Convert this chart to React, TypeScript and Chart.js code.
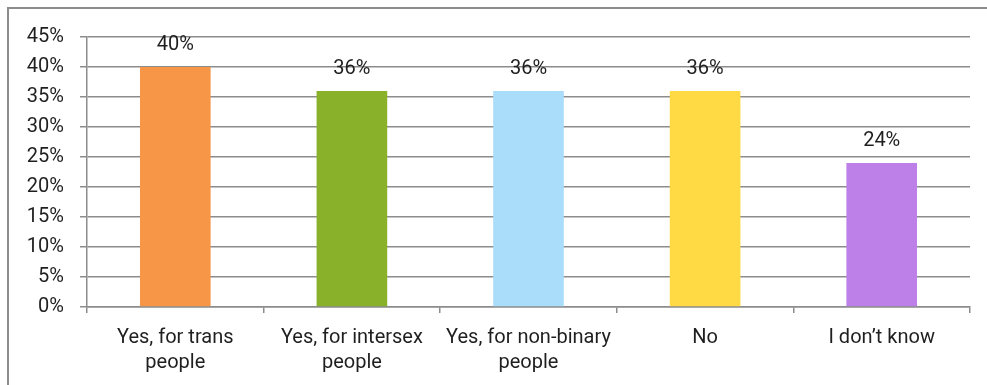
import React, { useEffect, useRef } from "react";
import { Chart, registerables } from "chart.js";

Chart.register(...registerables);

const categories: string[][] = [
  ["Yes, for trans", "people"],
  ["Yes, for intersex", "people"],
  ["Yes, for non-binary", "people"],
  ["No"],
  ["I don\u2019t know"],
];
const values: number[] = [40, 36, 36, 36, 24];
const barColors: string[] = ["#F79646", "#8AB12A", "#AADDFA", "#FFDA45", "#BD80E8"];
const yTicks = { min: 0, max: 45, step: 5 };

const FONT = "Roboto, 'DejaVu Sans', sans-serif";
const TEXT = "#1f1f1f";
const GRID = "#8c8c8c";
const FS = 20;

const labelPlugin = {
  id: "barLabels",
  afterDatasetsDraw(chart: any) {
    const ctx = chart.ctx;
    const meta = chart.getDatasetMeta(0);
    ctx.save();
    ctx.font = `${FS}px ${FONT}`;
    ctx.fillStyle = TEXT;
    ctx.textAlign = "center";
    ctx.textBaseline = "middle";
    meta.data.forEach((el: any, i: number) => {
      ctx.fillText(values[i] + "%", el.x, el.y - 22);
    });
    ctx.restore();
  },
};

export default function App() {
  const ref = useRef<HTMLCanvasElement>(null);
  useEffect(() => {
    if (!ref.current) return;
    const chart = new Chart(ref.current, {
      type: "bar",
      data: {
        labels: categories,
        datasets: [
          {
            data: values,
            backgroundColor: barColors,
            barPercentage: 0.4,
            categoryPercentage: 1,
          },
        ],
      },
      options: {
        animation: false,
        responsive: false,
        maintainAspectRatio: false,
        layout: { padding: { left: 0, right: 17, top: 37, bottom: 0 } },
        plugins: { legend: { display: false }, tooltip: { enabled: false } },
        scales: {
          x: {
            offset: true,
            grid: {
              offset: true,
              drawOnChartArea: false,
              drawTicks: true,
              tickLength: 6,
              color: GRID,
              lineWidth: 1.5,
            },
            border: { color: GRID, width: 1.5 },
            ticks: {
              color: TEXT,
              font: { family: FONT, size: FS, lineHeight: 1.27 },
              padding: 12,
              maxRotation: 0,
              autoSkip: false,
            },
            afterFit(scale: any) {
              scale.height = 78;
            },
          },
          y: {
            min: yTicks.min,
            max: yTicks.max,
            grid: { color: GRID, lineWidth: 1.5, tickLength: 7 },
            border: { color: GRID, width: 1.5 },
            ticks: {
              stepSize: yTicks.step,
              color: TEXT,
              font: { family: FONT, size: FS },
              padding: 16,
              callback: (v: any) => v + "%",
            },
            afterFit(scale: any) {
              scale.width = 87;
            },
          },
        },
      },
      plugins: [labelPlugin],
    });
    return () => chart.destroy();
  }, []);
  return (
    <div>
      <div
        style={{
          position: "fixed",
          left: 7,
          top: 7,
          width: 1100,
          height: 500,
          border: "2px solid #8c8c8c",
          boxSizing: "border-box",
        }}
      />
      <canvas
        ref={ref}
        width={987}
        height={385}
        style={{ position: "fixed", left: 0, top: 0, width: 987, height: 385 }}
      />
    </div>
  );
}
